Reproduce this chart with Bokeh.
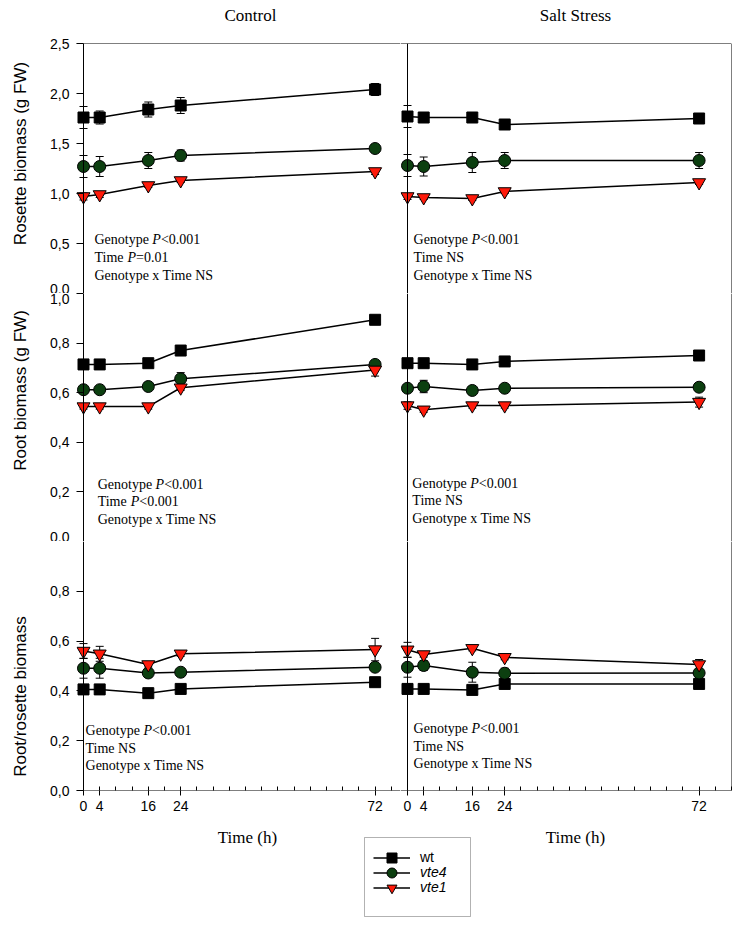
import math
from bokeh.plotting import figure
from bokeh.models import (Range1d, FixedTicker, CustomJSTickFormatter, Span, Whisker, TeeHead,
                          ColumnDataSource, Label, Legend, LegendItem, BoxAnnotation)
from bokeh.layouts import column, row
from bokeh.embed import file_html
from bokeh.resources import INLINE

# ---------------- data ----------------
time_h = [0, 4, 16, 24, 72]
time_tick_labels = [0, 4, 16, 24, 72]

genotypes = ["wt", "vte4", "vte1"]

# Rosette biomass (g FW)
rosette_control_wt = [1.76, 1.76, 1.84, 1.88, 2.04]
rosette_control_wt_err = [0.11, 0.065, 0.075, 0.08, 0.06]
rosette_control_vte4 = [1.27, 1.27, 1.33, 1.38, 1.45]
rosette_control_vte4_err = [0.11, 0.10, 0.08, 0.055, 0.03]
rosette_control_vte1 = [0.97, 0.99, 1.08, 1.13, 1.22]
rosette_control_vte1_err = [0.035, 0.03, 0.02, 0.02, 0.03]

rosette_salt_wt = [1.77, 1.76, 1.76, 1.69, 1.75]
rosette_salt_wt_err = [0.11, 0.03, 0.03, 0.03, 0.03]
rosette_salt_vte4 = [1.28, 1.27, 1.31, 1.33, 1.33]
rosette_salt_vte4_err = [0.11, 0.095, 0.10, 0.08, 0.08]
rosette_salt_vte1 = [0.97, 0.96, 0.95, 1.02, 1.11]
rosette_salt_vte1_err = [0.03, 0.02, 0.02, 0.02, 0.02]

# Root biomass (g FW)
root_control_wt = [0.714, 0.714, 0.719, 0.770, 0.894]
root_control_wt_err = [0.01, 0.01, 0.01, 0.01, 0.012]
root_control_vte4 = [0.612, 0.612, 0.625, 0.656, 0.714]
root_control_vte4_err = [0.01, 0.01, 0.01, 0.025, 0.015]
root_control_vte1 = [0.544, 0.544, 0.544, 0.620, 0.692]
root_control_vte1_err = [0.01, 0.01, 0.01, 0.01, 0.025]

root_salt_wt = [0.719, 0.719, 0.714, 0.726, 0.750]
root_salt_wt_err = [0.01, 0.01, 0.01, 0.01, 0.015]
root_salt_vte4 = [0.618, 0.625, 0.609, 0.618, 0.622]
root_salt_vte4_err = [0.01, 0.025, 0.01, 0.01, 0.01]
root_salt_vte1 = [0.548, 0.531, 0.548, 0.548, 0.562]
root_salt_vte1_err = [0.015, 0.01, 0.01, 0.01, 0.02]

# Root/rosette biomass
ratio_control_wt = [0.406, 0.406, 0.391, 0.408, 0.435]
ratio_control_wt_err = [0.02, 0.01, 0.01, 0.015, 0.01]
ratio_control_vte4 = [0.491, 0.491, 0.472, 0.475, 0.495]
ratio_control_vte4_err = [0.04, 0.04, 0.01, 0.01, 0.01]
ratio_control_vte1 = [0.560, 0.549, 0.506, 0.549, 0.566]
ratio_control_vte1_err = [0.03, 0.03, 0.01, 0.01, 0.045]

ratio_salt_wt = [0.408, 0.408, 0.404, 0.428, 0.428]
ratio_salt_wt_err = [0.02, 0.01, 0.01, 0.01, 0.01]
ratio_salt_vte4 = [0.495, 0.502, 0.475, 0.471, 0.472]
ratio_salt_vte4_err = [0.04, 0.02, 0.04, 0.02, 0.01]
ratio_salt_vte1 = [0.565, 0.546, 0.571, 0.535, 0.506]
ratio_salt_vte1_err = [0.03, 0.01, 0.01, 0.01, 0.02]

rosette_ticks = [0.0, 0.5, 1.0, 1.5, 2.0, 2.5]
root_ticks = [0.0, 0.2, 0.4, 0.6, 0.8, 1.0]
ratio_ticks = [0.0, 0.2, 0.4, 0.6, 0.8]

column_titles = ["Control", "Salt Stress"]
row_titles = ["Rosette biomass (g FW)", "Root biomass (g FW)", "Root/rosette biomass"]
x_title = "Time (h)"

# ---------------- styling ----------------
SERIF = "Liberation Serif"
SANS = "Liberation Sans"
GREEN = "#0c3f10"
RED = "#ff1a0a"
STYLE = {
    "wt": dict(marker="square", fill="black", size=11),
    "vte4": dict(marker="circle", fill=GREEN, size=12),
    "vte1": dict(marker="inverted_triangle", fill=RED, size=13),
}

X_END = 80.0
PX = 324 / X_END          # pixels per hour
PAD = 7 / PX              # small space left of the x=0 spine

TW = {"G": 722, "e": 444, "n": 500, "o": 500, "t": 278, "y": 500, "p": 500, " ": 250,
      "T": 611, "i": 278, "m": 778, "P": 611}
STAT_FS = 14


def text_w(s):
    return sum(TW.get(c, 500) for c in s) * STAT_FS / 1000.0


def strip(width, height):
    s = figure(width=width, height=height, x_range=Range1d(0, width), y_range=Range1d(0, height),
               min_border=0, x_axis_location=None, y_axis_location=None,
               output_backend="svg", toolbar_location=None)
    s.title.visible = False
    s.outline_line_color = None
    s.grid.grid_line_color = None
    return s


def make_panel(width, height, x_end, y_end, left, top, bottom, right, show_y, show_x):
    p = figure(width=width, height=height,
               x_range=Range1d(-PAD, x_end), y_range=Range1d(0, y_end),
               output_backend="svg", toolbar_location=None,
               min_border_left=left, min_border_right=right,
               min_border_top=top, min_border_bottom=bottom,
               x_axis_location="below" if show_x else None,
               y_axis_location="left" if show_y else None)
    p.title.visible = False
    p.outline_line_color = None
    p.grid.grid_line_color = None
    p.background_fill_color = "white"
    p.border_fill_color = "white"
    p.add_layout(Span(location=0, dimension="height", line_color="black", line_width=1))
    p.add_layout(Span(location=0, dimension="width", line_color="black", line_width=1))
    return p


def style_y(p, ticks):
    ax = p.yaxis[0]
    ax.ticker = FixedTicker(ticks=ticks)
    ax.formatter = CustomJSTickFormatter(code="return tick.toFixed(1).replace('.', ',');")
    ax.axis_line_color = None
    ax.major_tick_in = 7
    ax.major_tick_out = 0
    ax.minor_tick_in = 0
    ax.minor_tick_out = 0
    ax.major_tick_line_color = "black"
    ax.major_label_standoff = 7
    ax.major_label_text_font = SANS
    ax.major_label_text_font_size = "14px"
    ax.major_label_text_color = "black"


def style_x(p):
    ax = p.xaxis[0]
    ax.ticker = FixedTicker(ticks=time_tick_labels, minor_ticks=list(range(0, 81, 4)))
    ax.axis_line_color = None
    ax.major_tick_in = 0
    ax.major_tick_out = 5
    ax.minor_tick_in = 4
    ax.minor_tick_out = 0
    ax.major_tick_line_color = "black"
    ax.minor_tick_line_color = "black"
    ax.major_label_standoff = 5
    ax.major_label_text_font = SANS
    ax.major_label_text_font_size = "14px"
    ax.major_label_text_color = "black"


def add_series(p, y, err, g):
    st = STYLE[g]
    upper = [v + e for v, e in zip(y, err)]
    lower = [v - e for v, e in zip(y, err)]
    src = ColumnDataSource(dict(x=time_h, y=y, upper=upper, lower=lower))
    w = Whisker(source=src, base="x", upper="upper", lower="lower",
                line_color="black", line_width=1, level="underlay",
                upper_head=TeeHead(size=8, line_color="black", line_width=1),
                lower_head=TeeHead(size=8, line_color="black", line_width=1))
    p.add_layout(w)
    p.line("x", "y", source=src, line_color="black", line_width=1.5)
    p.scatter("x", "y", source=src, marker=st["marker"], size=st["size"],
              fill_color=st["fill"], line_color="black", line_width=1)


def stat_block(p, x, ys, lines):
    for y, parts in zip(ys, lines):
        off = 0.0
        for txt, style in parts:
            p.add_layout(Label(x=x, y=y, x_offset=off, text=txt, text_font=SERIF,
                               text_font_size=f"{STAT_FS}px", text_font_style=style,
                               text_color="black", text_baseline="middle", text_align="left"))
            off += text_w(txt)


def genotype_line():
    return [("Genotype ", "normal"), ("P", "italic"), ("<0.001", "normal")]


def gxt_line():
    return [("Genotype x Time NS", "normal")]


# ---------------- sizes ----------------
YLAB_W = 36
LEFT_W, RIGHT_W = 364, 332
TOTAL_W = YLAB_W + LEFT_W + RIGHT_W
TITLE_H = 33
H_TOP, H_MID, H_BOT = 260, 248, 277
GRID_H = H_TOP + H_MID + H_BOT
LEFT_X_END = X_END - PAD

# ---------------- panels ----------------
p11 = make_panel(LEFT_W, H_TOP, LEFT_X_END, 2.5, 40, 10, 0, 0, True, False)
p12 = make_panel(RIGHT_W, H_TOP, X_END, 2.5, 0, 10, 0, 1, False, False)
p21 = make_panel(LEFT_W, H_MID, LEFT_X_END, 1.0, 40, 0, 0, 0, True, False)
p22 = make_panel(RIGHT_W, H_MID, X_END, 1.0, 0, 0, 0, 1, False, False)
p31 = make_panel(LEFT_W, H_BOT, LEFT_X_END, 1.0, 40, 0, 28, 0, True, True)
p32 = make_panel(RIGHT_W, H_BOT, X_END, 1.0, 0, 0, 28, 1, False, True)

style_y(p11, rosette_ticks)
style_y(p21, root_ticks)
style_y(p31, ratio_ticks)
style_x(p31)
style_x(p32)

for p in (p11, p12):
    p.add_layout(Span(location=2.5, dimension="width", line_color="black", line_width=1))
for p in (p12, p22, p32):
    p.add_layout(Span(location=X_END, dimension="height", line_color="black", line_width=1))

panel_data = [
    (p11, rosette_control_wt, rosette_control_wt_err, rosette_control_vte4, rosette_control_vte4_err,
     rosette_control_vte1, rosette_control_vte1_err),
    (p12, rosette_salt_wt, rosette_salt_wt_err, rosette_salt_vte4, rosette_salt_vte4_err,
     rosette_salt_vte1, rosette_salt_vte1_err),
    (p21, root_control_wt, root_control_wt_err, root_control_vte4, root_control_vte4_err,
     root_control_vte1, root_control_vte1_err),
    (p22, root_salt_wt, root_salt_wt_err, root_salt_vte4, root_salt_vte4_err,
     root_salt_vte1, root_salt_vte1_err),
    (p31, ratio_control_wt, ratio_control_wt_err, ratio_control_vte4, ratio_control_vte4_err,
     ratio_control_vte1, ratio_control_vte1_err),
    (p32, ratio_salt_wt, ratio_salt_wt_err, ratio_salt_vte4, ratio_salt_vte4_err,
     ratio_salt_vte1, ratio_salt_vte1_err),
]
for p, wt, wte, v4, v4e, v1, v1e in panel_data:
    add_series(p, wt, wte, "wt")
    add_series(p, v4, v4e, "vte4")
    add_series(p, v1, v1e, "vte1")

stat_block(p11, 2.7, [0.54, 0.36, 0.18],
           [genotype_line(), [("Time ", "normal"), ("P", "italic"), ("=0.01", "normal")], gxt_line()])
stat_block(p12, 1.5, [0.54, 0.36, 0.18],
           [genotype_line(), [("Time NS", "normal")], gxt_line()])
stat_block(p21, 3.5, [0.23, 0.161, 0.089],
           [genotype_line(), [("Time ", "normal"), ("P", "italic"), ("<0.001", "normal")], gxt_line()])
stat_block(p22, 1.2, [0.234, 0.165, 0.093],
           [genotype_line(), [("Time NS", "normal")], gxt_line()])
stat_block(p31, 0.5, [0.241, 0.169, 0.10],
           [genotype_line(), [("Time NS", "normal")], gxt_line()])
stat_block(p32, 1.5, [0.249, 0.177, 0.108],
           [genotype_line(), [("Time NS", "normal")], gxt_line()])

# ---------------- title strip ----------------
ts = strip(TOTAL_W, TITLE_H)
for xc, t in zip((250, 575), column_titles):
    ts.add_layout(Label(x=xc, y=TITLE_H - 15, text=t, text_font=SERIF, text_font_size="17px",
                        text_align="center", text_baseline="middle", text_color="black"))

# ---------------- y-label strip ----------------
ys = strip(YLAB_W, GRID_H)
for yc, t in zip((153, 390, 696), row_titles):
    ys.add_layout(Label(x=20, y=GRID_H + TITLE_H - yc, text=t, text_font=SANS,
                        text_font_size="17px", angle=math.pi / 2, text_align="center",
                        text_baseline="middle", text_color="black"))

# ---------------- bottom strip: axis titles and legend ----------------
lg = strip(TOTAL_W, 100)
for xc in (247, 575):
    lg.add_layout(Label(x=xc, y=81, text=x_title, text_font=SERIF, text_font_size="17px",
                        text_align="center", text_baseline="middle", text_color="black"))

nan = float("nan")
legend_rows = {"wt": 48.5, "vte4": 33.5, "vte1": 18.5}
for g in genotypes:
    st = STYLE[g]
    lr = lg.line(x=[nan], y=[nan], line_color="black", line_width=1.5)
    sr = lg.scatter(x=[nan], y=[nan], marker=st["marker"], fill_color=st["fill"], line_color="black")
    leg = Legend(items=[LegendItem(label=g, renderers=[lr, sr])], location=(373, legend_rows[g]),
                 glyph_width=37, glyph_height=25, label_height=25, label_standoff=10,
                 padding=0, margin=0, spacing=0, border_line_color=None, background_fill_alpha=0,
                 label_text_font=SANS, label_text_font_size="14px", label_text_color="black",
                 label_text_font_style="normal" if g == "wt" else "italic")
    lg.add_layout(leg)

lg.add_layout(BoxAnnotation(left=364, right=470, bottom=2, top=81, fill_alpha=0,
                            line_color="black", line_width=1))

grid = column(row(p11, p12), row(p21, p22), row(p31, p32))
layout = column(ts, row(ys, grid), lg)
open("out.html", "w").write(file_html(layout, INLINE))
